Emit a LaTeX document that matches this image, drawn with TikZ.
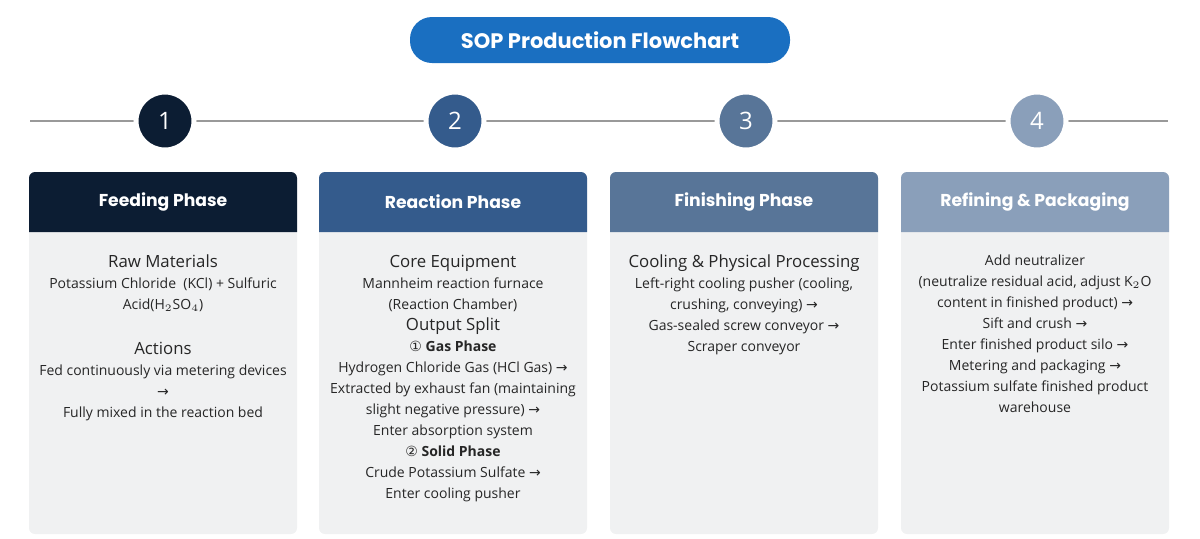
\documentclass[tikz,border=0pt]{standalone}
\usepackage{fontspec}
\setmainfont{Open Sans}
\newfontfamily\headfont{Poppins}
\newfontfamily\symfont{DejaVu Sans}
\usetikzlibrary{positioning}
\definecolor{navy}{HTML}{0C1D33}
\definecolor{steel}{HTML}{345B8C}
\definecolor{slate}{HTML}{587598}
\definecolor{mist}{HTML}{8A9FBA}
\definecolor{pill}{HTML}{1A6FC1}
\definecolor{cardbg}{HTML}{F0F1F2}
\newcommand\arr{{\symfont\char"2192}}
\newcommand\hd[1]{{\fontsize{8.4}{10}\selectfont #1}}
\begin{document}
\begin{tikzpicture}[x=0.5pt,y=-0.5pt,
    stepdot/.style={circle, minimum size=29pt, inner sep=0pt, text=white, draw=white, line width=2.5pt, font=\fontsize{12}{12}\selectfont},
    head/.style={text=white, font=\headfont\bfseries\fontsize{8.6}{10}\selectfont},
    body/.style={anchor=north, align=center, text=black!85, font=\fontsize{7}{10.5}\selectfont}]
    \useasboundingbox (0,0) rectangle (1200,538);

    % title
    \node at (600,40) [fill=pill, rounded corners=11pt, minimum width=190pt, minimum height=23pt, text=white, font=\headfont\bfseries\fontsize{10.5}{12}\selectfont] (title) {SOP Production Flowchart};

    % timeline
    \coordinate (tl) at (30,121);
    \coordinate (tr) at (1168,121);
    \draw[gray!80, line width=1.2pt] (tl) -- (tr);

    % cards and steps
    \foreach \i/\cx/\col/\name in {1/163/navy/Feeding Phase, 2/453/steel/Reaction Phase, 3/744/slate/Finishing Phase, 4/1035/mist/Refining \& Packaging} {
        \fill[cardbg, rounded corners=3pt] (\cx-134,172) rectangle (\cx+134,534);
        \fill[\col] (\cx-134,232) [rounded corners=3pt] -- (\cx-134,172) -- (\cx+134,172) [sharp corners] -- (\cx+134,232) -- cycle;
        \node at (\cx,202) [head] (h\i) {\name};
        \node at (\cx+2,121) [stepdot, fill=\col] (c\i) {\i};
    }

    % texts
    \node at (163,248) [body] (t1) {\hd{Raw Materials}\\
        Potassium Chloride\ \ (KCl) + Sulfuric\\
        Acid(H$_2$SO$_4$)\\[12pt]
        \hd{Actions}\\
        Fed continuously via metering devices\\
        \arr\\
        Fully mixed in the reaction bed};
    \node at (453,248) [body] (t2) {\hd{Core Equipment}\\
        Mannheim reaction furnace\\
        (Reaction Chamber)\\
        \hd{Output Split}\\
        {\symfont ①} \textbf{Gas Phase}\\
        Hydrogen Chloride Gas (HCl Gas) \arr\\
        Extracted by exhaust fan (maintaining\\
        slight negative pressure) \arr\\
        Enter absorption system\\
        {\symfont ②} \textbf{Solid Phase}\\
        Crude Potassium Sulfate \arr\\
        Enter cooling pusher};
    \node at (744,248) [body] (t3) {\hd{Cooling \& Physical Processing}\\
        Left-right cooling pusher (cooling,\\
        crushing, conveying) \arr\\
        Gas-sealed screw conveyor \arr\\
        Scraper conveyor};
    \node at (1035,248) [body] (t4) {Add neutralizer\\
        (neutralize residual acid, adjust K$_2$O\\
        content in finished product) \arr\\
        Sift and crush \arr\\
        Enter finished product silo \arr\\
        Metering and packaging \arr\\
        Potassium sulfate finished product\\
        warehouse};
\end{tikzpicture}
\end{document}
